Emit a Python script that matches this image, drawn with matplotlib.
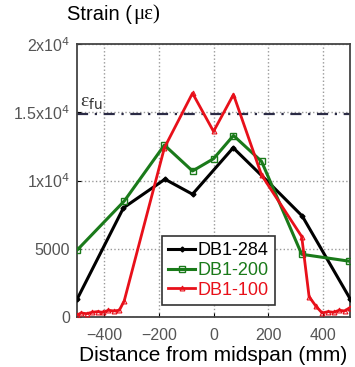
import matplotlib
matplotlib.use('Agg')
import matplotlib.pyplot as plt

plt.rcParams['font.family'] = ['Liberation Sans', 'DejaVu Sans']

# strain readings along the beam
x_284 = [-500, -330, -178, -77, 72, 200, 325, 500]
y_284 = [1300, 8000, 10100, 9000, 12400, 9900, 7400, 1350]

x_200 = [-500, -327, -180, -77, 0, 73, 176, 323, 495]
y_200 = [4900, 8500, 12600, 10700, 11600, 13300, 11400, 4600, 4100]

x_100 = [-500, -485, -465, -445, -425, -405, -385, -365, -345, -327, -180, -77, 0, 73,
         176, 323, 350, 375, 398, 420, 440, 460, 480, 500]
y_100 = [150, 300, 250, 350, 400, 350, 500, 450, 500, 1200, 12400, 16400, 13600, 16300,
         10400, 5900, 1500, 800, 300, 400, 350, 500, 450, 700]

labels = ['DB1-284', 'DB1-200', 'DB1-100']
colors = ['black', '#1a7a1a', '#e8101a']

x_ticks = [-400, -200, 0, 200, 400]
y_ticks = [0, 5000, 10000, 15000, 20000]
y_ticklabels = ['0', '5000', '1x10$^4$', '1.5x10$^4$', '2x10$^4$']
eps_fu = 14900

fig = plt.figure(figsize=(3.55, 3.67), dpi=100)
ax = fig.add_axes([0.217, 0.136, 0.769, 0.744])

ax.grid(True, linestyle=':', color='#999999', linewidth=1)
ax.axhline(eps_fu, color='#2b2b45', linestyle=(0, (5, 3, 1, 3)), linewidth=1.6, zorder=2)

ax.plot(x_284, y_284, color=colors[0], lw=2.2, marker='D', markersize=2.5, label=labels[0], zorder=3)
ax.plot(x_200, y_200, color=colors[1], lw=2.2, marker='s', markersize=5, mfc='none',
        mew=1, label=labels[1], zorder=3)
ax.plot(x_100, y_100, color=colors[2], lw=2.0, marker='^', markersize=3.5, mfc='none',
        mew=0.8, label=labels[2], zorder=4)

ax.set_xlim(-500, 500)
ax.set_ylim(0, 20000)
ax.set_xticks(x_ticks)
ax.set_yticks(y_ticks)
ax.set_yticklabels(y_ticklabels)
ax.tick_params(direction='in', labelsize=11.5, labelcolor='#555555', length=3, pad=5)
ax.tick_params(axis='x', pad=8)
for s in ax.spines.values():
    s.set_color('#444444')
    s.set_linewidth(1.3)

ax.set_xlabel('Distance from midspan (mm)', fontsize=15, labelpad=2)
fig.text(0.19, 0.935, 'Strain (', fontsize=14.5, ha='left', va='bottom')
fig.text(0.375, 0.935, 'με)', fontsize=15, ha='left', va='bottom', family='Liberation Serif')
ax.text(-490, 15400, 'ε$_{\\rm fu}$', fontsize=14, family='Liberation Serif', color='#333333')

leg = ax.legend(loc='lower left', bbox_to_anchor=(0.31, 0.044), borderaxespad=0, fontsize=13,
                handlelength=1.5, handletextpad=0.15, borderpad=0.35, labelspacing=0.15,
                fancybox=False, edgecolor='#333333', framealpha=1)
leg.get_frame().set_linewidth(1.2)
for t, c in zip(leg.get_texts(), colors):
    t.set_color(c)

fig.savefig('out.png', dpi=100)
